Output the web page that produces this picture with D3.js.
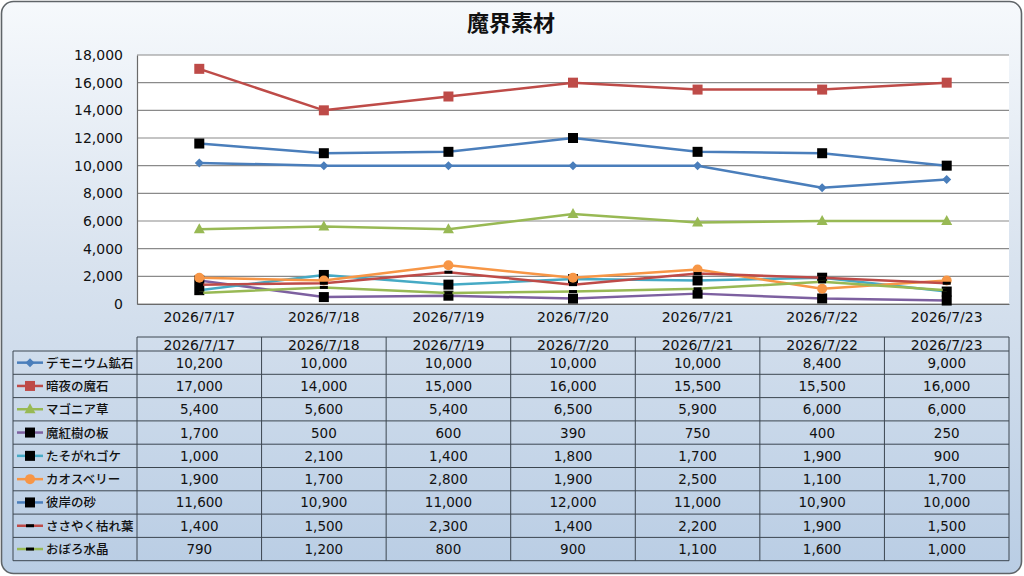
<!DOCTYPE html>
<html>
<head>
<meta charset="utf-8">
<script src="https://cdn.jsdelivr.net/npm/d3@7"></script>
<style>
  body { margin: 0; background: #fff; }
  text { font-family: "DejaVu Sans", "Noto Sans CJK JP", sans-serif; fill: #111; }
  .jp { font-family: "Noto Sans CJK JP", sans-serif; }
</style>
</head>
<body>
<div id="chart"></div>
<script>
const dates = ["2026/7/17", "2026/7/18", "2026/7/19", "2026/7/20", "2026/7/21", "2026/7/22", "2026/7/23"];
const seriesNames = ["デモニウム鉱石", "暗夜の魔石", "マゴニア草", "魔紅樹の板", "たそがれゴケ", "カオスベリー", "彼岸の砂", "ささやく枯れ葉", "おぼろ水晶"];
const demonium = [10200, 10000, 10000, 10000, 10000, 8400, 9000];
const anyaMaseki = [17000, 14000, 15000, 16000, 15500, 15500, 16000];
const magonia = [5400, 5600, 5400, 6500, 5900, 6000, 6000];
const makoujuIta = [1700, 500, 600, 390, 750, 400, 250];
const tasogare = [1000, 2100, 1400, 1800, 1700, 1900, 900];
const chaosBerry = [1900, 1700, 2800, 1900, 2500, 1100, 1700];
const higanSuna = [11600, 10900, 11000, 12000, 11000, 10900, 10000];
const sasayaku = [1400, 1500, 2300, 1400, 2200, 1900, 1500];
const oboro = [790, 1200, 800, 900, 1100, 1600, 1000];
const yTicks = [0, 2000, 4000, 6000, 8000, 10000, 12000, 14000, 16000, 18000];

const seriesValues = [demonium, anyaMaseki, magonia, makoujuIta, tasogare, chaosBerry, higanSuna, sasayaku, oboro];
const lineColors = ["#4a7ebb", "#be4b48", "#98b954", "#7d60a0", "#46aac5", "#f79646", "#4a7ebb", "#be4b48", "#98b954"];
const markerKinds = ["diamond", "square", "triangle", "blacksq", "blacksq", "circle", "blacksq", "dash", "dash"];

const series = seriesNames.map((name, i) => ({
    name, values: seriesValues[i], color: lineColors[i], marker: markerKinds[i]
}));

const W = 1024, H = 576;
const plot = {left: 137, right: 1009, top: 55, bottom: 304};
const fmt = d3.format(",");
const numSize = "13.5px";

const svg = d3.select("#chart").append("svg")
    .attr("width", W)
    .attr("height", H);

// Background gradient
const grad = svg.append("defs").append("linearGradient")
    .attr("id", "bg")
    .attr("x1", 0).attr("y1", 0).attr("x2", 0).attr("y2", 1);
grad.append("stop").attr("offset", "0%").attr("stop-color", "#f6f9fc");
grad.append("stop").attr("offset", "45%").attr("stop-color", "#d9e3ef");
grad.append("stop").attr("offset", "100%").attr("stop-color", "#b9cde4");

svg.append("rect")
    .attr("x", 1.5).attr("y", 1.5)
    .attr("width", W - 4).attr("height", H - 4)
    .attr("rx", 12).attr("ry", 12)
    .attr("fill", "url(#bg)")
    .attr("stroke", "#5f6468")
    .attr("stroke-width", 1.6);

// Title
svg.append("text")
    .attr("class", "jp")
    .attr("x", 511).attr("y", 31)
    .attr("text-anchor", "middle")
    .style("font-size", "22px")
    .style("font-weight", "bold")
    .text("魔界素材");

// Scales
const x = d3.scaleBand()
    .domain(dates)
    .range([plot.left, plot.right]);

const y = d3.scaleLinear()
    .domain([0, 18000])
    .range([plot.bottom, plot.top]);

// Plot area
svg.append("rect")
    .attr("x", plot.left).attr("y", plot.top)
    .attr("width", plot.right - plot.left)
    .attr("height", plot.bottom - plot.top)
    .attr("fill", "#fff");

// Gridlines
svg.append("g")
    .selectAll("line")
    .data(yTicks)
    .enter()
    .append("line")
    .attr("x1", plot.left).attr("x2", plot.right)
    .attr("y1", d => y(d)).attr("y2", d => y(d))
    .attr("stroke", "#8a8a8a")
    .attr("stroke-width", 1.2);

// Y axis
const yAxis = svg.append("g")
    .attr("transform", `translate(${plot.left},0)`)
    .call(d3.axisLeft(y).tickValues(yTicks).tickFormat(fmt).tickSize(0).tickPadding(14));
yAxis.select(".domain").attr("stroke", "#6a6a6a").attr("stroke-width", 1.2);
yAxis.selectAll("text")
    .style("font-family", "DejaVu Sans")
    .style("font-size", "14px")
    .attr("fill", "#111");

// X axis
const xAxis = svg.append("g")
    .attr("transform", `translate(0,${plot.bottom})`)
    .call(d3.axisBottom(x).tickSize(0).tickPadding(8));
xAxis.select(".domain").attr("stroke", "#6a6a6a").attr("stroke-width", 1.2);
xAxis.selectAll("text")
    .style("font-family", "DejaVu Sans")
    .style("font-size", "14px")
    .attr("fill", "#111");

const cx = d => x(d) + x.bandwidth() / 2;

function drawMarker(g, kind, color) {
    if (kind === "diamond") {
        g.append("path").attr("d", "M0,-4.5L4.5,0L0,4.5L-4.5,0Z").attr("fill", color);
    } else if (kind === "square") {
        g.append("rect").attr("x", -5).attr("y", -5).attr("width", 10).attr("height", 10).attr("fill", color);
    } else if (kind === "triangle") {
        g.append("path").attr("d", "M0,-6L5.5,4L-5.5,4Z").attr("fill", color);
    } else if (kind === "blacksq") {
        g.append("rect").attr("x", -5).attr("y", -5).attr("width", 10).attr("height", 10).attr("fill", "#000");
    } else if (kind === "circle") {
        g.append("circle").attr("r", 5).attr("fill", color);
    } else if (kind === "dash") {
        g.append("rect").attr("x", -4).attr("y", -1.5).attr("width", 8).attr("height", 3).attr("fill", "#000");
    }
}

// Lines
const line = d3.line()
    .x((d, i) => cx(dates[i]))
    .y(d => y(d));

const seriesG = svg.append("g")
    .selectAll("g")
    .data(series)
    .enter()
    .append("g");

seriesG.append("path")
    .attr("d", d => line(d.values))
    .attr("fill", "none")
    .attr("stroke", d => d.color)
    .attr("stroke-width", 2.5)
    .attr("stroke-linejoin", "round");

seriesG.each(function (s) {
    d3.select(this).selectAll("g.mk")
        .data(s.values)
        .enter()
        .append("g")
        .attr("class", "mk")
        .attr("transform", (v, i) => `translate(${cx(dates[i])},${y(v)})`)
        .each(function () { drawMarker(d3.select(this), s.marker, s.color); });
});

// Data table
const table = {top: 337, header: 351, rowH: 23.3, legendLeft: 13};
const tableG = svg.append("g");
const rows = series.length;
const tableBottom = table.header + rows * table.rowH;
const tStroke = "#3c4650";

// header row
tableG.append("line")
    .attr("x1", plot.left).attr("x2", plot.right)
    .attr("y1", table.top).attr("y2", table.top)
    .attr("stroke", tStroke);
// row lines
d3.range(rows + 1).forEach(r => {
    tableG.append("line")
        .attr("x1", table.legendLeft).attr("x2", plot.right)
        .attr("y1", table.header + r * table.rowH).attr("y2", table.header + r * table.rowH)
        .attr("stroke", tStroke);
});
// column lines
tableG.append("line")
    .attr("x1", table.legendLeft).attr("x2", table.legendLeft)
    .attr("y1", table.header).attr("y2", tableBottom)
    .attr("stroke", tStroke);
dates.concat(["end"]).forEach((d, i) => {
    const xx = i < dates.length ? x(d) : plot.right;
    tableG.append("line")
        .attr("x1", xx).attr("x2", xx)
        .attr("y1", table.top).attr("y2", tableBottom)
        .attr("stroke", tStroke);
});

// header labels
tableG.selectAll("text.hdr")
    .data(dates)
    .enter()
    .append("text")
    .attr("class", "hdr")
    .attr("x", d => cx(d))
    .attr("y", table.header - 1.5)
    .attr("text-anchor", "middle")
    .style("font-size", "14px")
    .text(d => d);

// rows
series.forEach((s, r) => {
    const rowY = table.header + r * table.rowH + table.rowH / 2;
    const lg = tableG.append("g");
    lg.append("line")
        .attr("x1", 17).attr("x2", 43)
        .attr("y1", rowY).attr("y2", rowY)
        .attr("stroke", s.color)
        .attr("stroke-width", 2.5);
    drawMarker(lg.append("g").attr("transform", `translate(30,${rowY})`), s.marker, s.color);
    lg.append("text")
        .attr("class", "jp")
        .attr("x", 46).attr("y", rowY + 5)
        .style("font-size", "12.5px")
        .style("font-weight", "500")
        .text(s.name);

    tableG.selectAll(null)
        .data(s.values)
        .enter()
        .append("text")
        .attr("x", (v, i) => cx(dates[i]))
        .attr("y", rowY + 5)
        .attr("text-anchor", "middle")
        .style("font-size", numSize)
        .text(v => fmt(v));
});
</script>
</body>
</html>
